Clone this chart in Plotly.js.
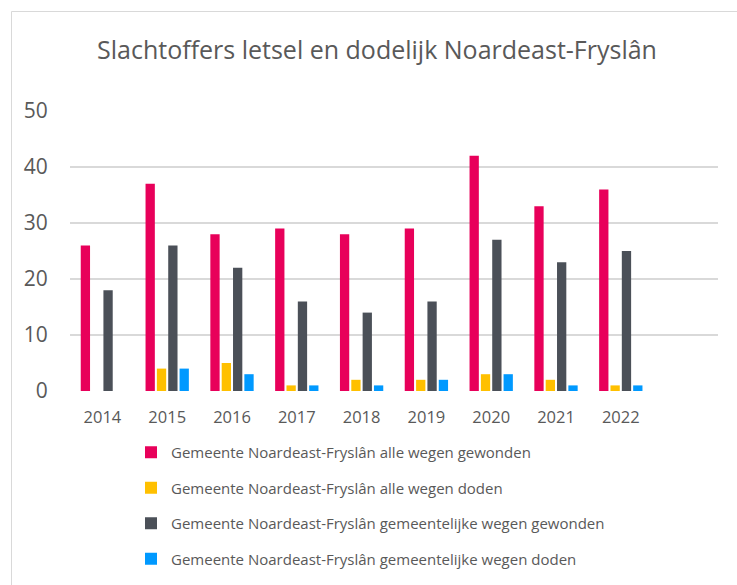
<!DOCTYPE html>
<html>
<head>
<meta charset="utf-8">
<script src="https://cdn.plot.ly/plotly-3.0.1.min.js"></script>
<style>html,body{margin:0;padding:0;background:#fff;}#chart{width:737px;height:585px;}</style>
</head>
<body>
<div id="chart"></div>
<script>
const years = [2014, 2015, 2016, 2017, 2018, 2019, 2020, 2021, 2022];
const yearLabels = ["2014", "2015", "2016", "2017", "2018", "2019", "2020", "2021", "2022"];
const alleGewonden = [26, 37, 28, 29, 28, 29, 42, 33, 36];
const alleDoden = [0, 4, 5, 1, 2, 2, 3, 2, 1];
const gemGewonden = [18, 26, 22, 16, 14, 16, 27, 23, 25];
const gemDoden = [0, 4, 3, 1, 1, 2, 3, 1, 1];
const seriesNames = [
  "Gemeente Noardeast-Fryslân alle wegen gewonden",
  "Gemeente Noardeast-Fryslân alle wegen doden",
  "Gemeente Noardeast-Fryslân gemeentelijke wegen gewonden",
  "Gemeente Noardeast-Fryslân gemeentelijke wegen doden"
];
const colors = ["#E8005A", "#FFC000", "#4B5058", "#0099FF"];
const seriesValues = [alleGewonden, alleDoden, gemGewonden, gemDoden];

const traces = seriesValues.map((vals, i) => ({
  type: "bar",
  x: years,
  y: vals,
  name: seriesNames[i],
  legendgroup: "g" + i,
  marker: {color: colors[i]},
  hoverinfo: "x+y+name"
}));

const font = "'Segoe UI', 'Open Sans', 'Noto Sans', sans-serif";
const layout = {
  width: 737,
  height: 585,
  margin: {l: 70, r: 19, t: 111, b: 194, autoexpand: false},
  paper_bgcolor: "#ffffff",
  plot_bgcolor: "#ffffff",
  font: {family: font, color: "#595959"},
  barmode: "group",
  bargap: 0.30,
  bargroupgap: 0.18,
  title: {
    text: "Slachtoffers letsel en dodelijk Noardeast-Fryslân",
    font: {size: 25, color: "#595959", family: font},
    x: 377 / 737, xref: "container", xanchor: "center",
    y: 1 - 50 / 585, yref: "container", yanchor: "middle"
  },
  xaxis: {
    range: [2013.5, 2023.5],
    tickvals: years,
    ticktext: yearLabels,
    showgrid: false,
    zeroline: false,
    showline: false,
    ticks: "outside", ticklen: 11, tickcolor: "rgba(0,0,0,0)",
    tickfont: {size: 16.5, color: "#595959"},
    fixedrange: true
  },
  yaxis: {
    range: [0, 50],
    dtick: 10,
    showgrid: true,
    gridcolor: "#d9d9d9",
    gridwidth: 1.5,
    zeroline: false,
    showline: false,
    ticks: "outside", ticklen: 17, tickcolor: "rgba(0,0,0,0)",
    tickfont: {size: 21, color: "#595959"},
    fixedrange: true
  },
  showlegend: true,
  legend: {
    orientation: "v",
    x: (131 - 70) / 648, xanchor: "left",
    y: -(436 - 391) / 280, yanchor: "top",
    font: {size: 15, color: "#595959", family: font},
    tracegroupgap: 13,
    traceorder: "grouped",
    bgcolor: "rgba(0,0,0,0)"
  },
  shapes: [{
    type: "rect", xref: "paper", yref: "paper",
    x0: (11.5 - 70) / 648, x1: (745 - 70) / 648,
    y0: -(600 - 391) / 280, y1: (391 - 11.5) / 280,
    line: {color: "#d9d9d9", width: 1}, fillcolor: "rgba(0,0,0,0)", layer: "below"
  }]
};

Plotly.newPlot("chart", traces, layout, {displayModeBar: false, staticPlot: true});
</script>
</body>
</html>
